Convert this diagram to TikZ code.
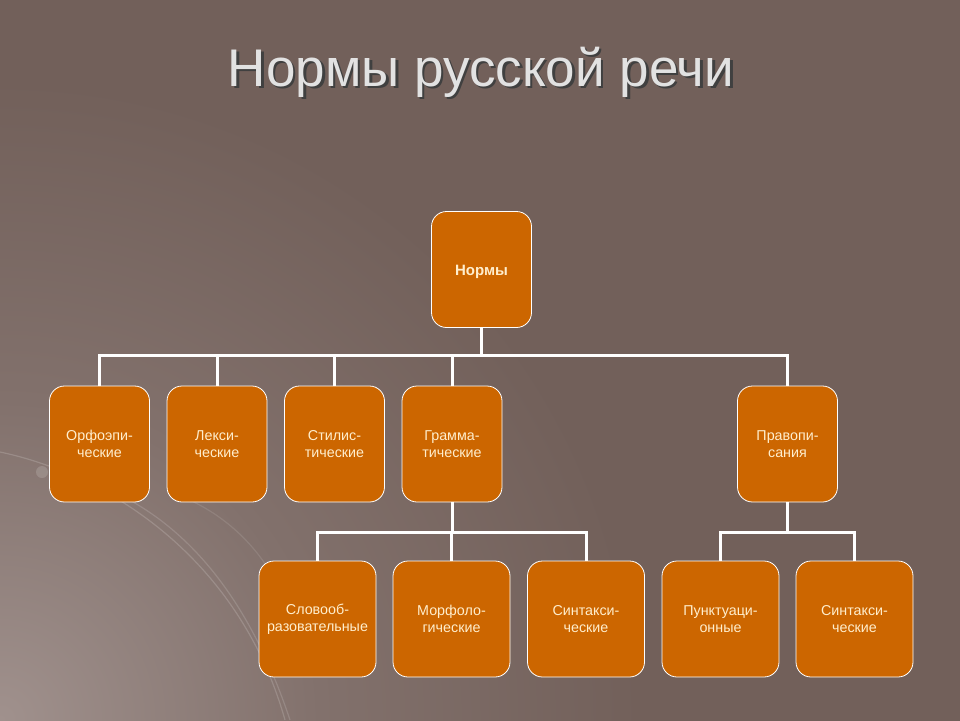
\documentclass[tikz,border=0pt]{standalone}
\usepackage{fontspec}
\setmainfont{Liberation Sans}
\definecolor{bg}{RGB}{114,96,90}
\definecolor{bgmid}{RGB}{130,113,108}
\definecolor{bglight}{RGB}{160,145,141}
\pgfdeclareradialshading{cornerglow}{\pgfpoint{0bp}{0bp}}{color(0bp)=(bglight); color(8bp)=(bgmid); color(16bp)=(bg); color(50bp)=(bg)}
\begin{document}
\begin{tikzpicture}[x=1pt,y=-1pt,
  box/.style={draw=white, line width=0.8pt, fill=boxorange, rounded corners=15pt,
    minimum width=#1, minimum height=116pt, inner sep=0pt, align=center,
    text=boxtext, font=\fontsize{14.3}{17}\selectfont},
  box/.default=100pt,
  link/.style={draw=white, line width=3pt},
  arc/.style={draw=white, line width=1.2pt}
]
\definecolor{boxorange}{RGB}{204,102,0}
\definecolor{boxtext}{RGB}{255,238,205}
\definecolor{titlecol}{RGB}{226,226,226}
\useasboundingbox (0,0) rectangle (960,720);
\fill[bg] (0,0) rectangle (960,720);
\begin{scope}
\clip (0,0) rectangle (960,720);
\shade[shading=cornerglow] (-1000,-280) rectangle (1000,1720);
\draw[arc, opacity=0.16] (0,452) .. controls (110,475) and (240,560) .. (285,720);
\draw[arc, opacity=0.14] (120,495) .. controls (190,530) and (250,600) .. (290,720);
\draw[arc, opacity=0.10] (185,498) .. controls (225,515) and (255,545) .. (272,575);
\fill[white, opacity=0.15] (42,472) circle (6);
\end{scope}
% title
\node[text=black!75, font=\fontsize{53}{60}\selectfont] at (483.5,74.5) {Нормы русской речи};
\node[text=titlecol, font=\fontsize{53}{60}\selectfont] (title) at (481,72) {Нормы русской речи};
% nodes
\node[box] (root) at (481.5,269.5) {};
\node[text=boxtext, font=\fontsize{15}{18}\selectfont\bfseries] at (481.5,272) {Нормы};
\node[box] (orf) at (99.5,444) {Орфоэпи-\\ческие};
\node[box] (lex) at (217,444) {Лекси-\\ческие};
\node[box] (sti) at (334.5,444) {Стилис-\\тические};
\node[box] (gra) at (452,444) {Грамма-\\тические};
\node[box] (pra) at (787.5,444) {Правопи-\\сания};
\node[box=117pt] (slo) at (317.5,619) {Словооб-\\разовательные};
\node[box=117pt] (mor) at (451.5,619) {Морфоло-\\гические};
\node[box=117pt] (sin) at (586,619) {Синтакси-\\ческие};
\node[box=117pt] (pun) at (720.5,619) {Пунктуаци-\\онные};
\node[box=117pt] (sin2) at (854.5,619) {Синтакси-\\ческие};
% connectors
\coordinate (bar1) at (481.5,355);
\draw[link] (root.south) -- (bar1);
\draw[link] (orf.north) -- (orf.north |- bar1) -- (pra.north |- bar1) -- (pra.north);
\foreach \n in {lex,sti,gra} \draw[link] (\n.north) -- (\n.north |- bar1);
\coordinate (bar2) at (452,532);
\draw[link] (gra.south) -- (bar2);
\draw[link] (slo.north) -- (slo.north |- bar2) -- (sin.north |- bar2) -- (sin.north);
\draw[link] (mor.north) -- (mor.north |- bar2);
\coordinate (bar3) at (787.5,532);
\draw[link] (pra.south) -- (bar3);
\draw[link] (pun.north) -- (pun.north |- bar3) -- (sin2.north |- bar3) -- (sin2.north);
\end{tikzpicture}
\end{document}
